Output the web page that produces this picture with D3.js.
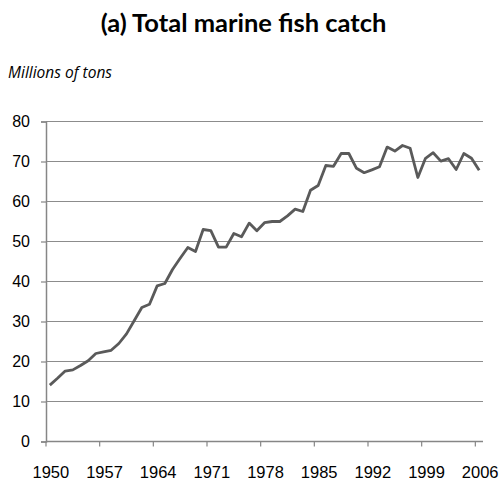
<!DOCTYPE html>
<html>
<head>
<meta charset="utf-8">
<script src="https://cdn.jsdelivr.net/npm/d3@7"></script>
<style>
  html, body { margin: 0; padding: 0; background: #fff; }
  svg { display: block; }
</style>
</head>
<body>
<script>
// Total marine fish catch, millions of tons, 1950–2006
const years = d3.range(1950, 2007);
const catchValues = [
  14.1, 15.8, 17.6, 17.9, 19.0, 20.2, 22.0, 22.4, 22.8, 24.5,
  26.9, 30.2, 33.5, 34.3, 38.9, 39.5, 43.0, 45.8, 48.5, 47.5,
  53.0, 52.7, 48.6, 48.6, 52.0, 51.2, 54.6, 52.7, 54.7, 55.0,
  55.0, 56.4, 58.1, 57.5, 62.8, 64.0, 69.0, 68.8, 72.0, 72.0,
  68.3, 67.2, 67.9, 68.7, 73.6, 72.6, 74.0, 73.3, 66.0, 70.8,
  72.2, 70.1, 70.7, 68.0, 72.0, 70.8, 67.8
];
const yTicks = [0, 10, 20, 30, 40, 50, 60, 70, 80];
const xLabelYears = [1950, 1957, 1964, 1971, 1978, 1985, 1992, 1999, 2006];

const W = 502, H = 484;
const plotLeft = 46, plotRight = 483, plotTop = 121.5, plotBottom = 441.5;

const svg = d3.select("body").append("svg")
  .attr("width", W).attr("height", H);

const x = d3.scaleBand().domain(years).range([plotLeft, plotRight]).padding(0);
const y = d3.scaleLinear().domain([0, 80]).range([plotBottom, plotTop]);

const axisColor = "#868686";
const gridColor = "#8c8c8c";
const textColor = "#000";
const font = "'Liberation Sans', Arial, sans-serif";

// Title and unit label
svg.append("text")
  .attr("x", 243.5).attr("y", 32)
  .attr("text-anchor", "middle")
  .attr("font-family", "Lato, 'Open Sans', sans-serif")
  .attr("font-weight", "bold")
  .attr("font-size", 25.5)
  .attr("fill", textColor)
  .text("(a) Total marine fish catch");

svg.append("text")
  .attr("x", 8).attr("y", 78)
  .attr("font-family", "'Open Sans', sans-serif")
  .attr("font-style", "italic")
  .attr("font-size", 15.5)
  .attr("fill", textColor)
  .text("Millions of tons");

// Horizontal gridlines
svg.append("g")
  .selectAll("line")
  .data(yTicks.filter(d => d > 0))
  .join("line")
  .attr("x1", plotLeft).attr("x2", plotRight)
  .attr("y1", d => y(d)).attr("y2", d => y(d))
  .attr("stroke", gridColor)
  .attr("stroke-width", 1.2);

// Y axis
const yAxis = d3.axisLeft(y).tickValues(yTicks).tickSize(5).tickPadding(11);
const gy = svg.append("g")
  .attr("transform", `translate(${plotLeft},0)`)
  .call(yAxis);
gy.select(".domain").attr("stroke", axisColor).attr("stroke-width", 1.5);
gy.selectAll(".tick line").attr("stroke", axisColor).attr("stroke-width", 1.2);
gy.selectAll(".tick text")
  .attr("font-family", font).attr("font-size", 16).attr("fill", textColor);

// X axis: ticks on category boundaries, labels on category centres
const gx = svg.append("g");
gx.append("line")
  .attr("x1", plotLeft).attr("x2", plotRight)
  .attr("y1", plotBottom).attr("y2", plotBottom)
  .attr("stroke", axisColor).attr("stroke-width", 1.5);
gx.selectAll("line.tk")
  .data(xLabelYears)
  .join("line")
  .attr("class", "tk")
  .attr("x1", d => x(d)).attr("x2", d => x(d))
  .attr("y1", plotBottom).attr("y2", plotBottom + 5)
  .attr("stroke", axisColor).attr("stroke-width", 1.2);
gx.selectAll("text")
  .data(xLabelYears)
  .join("text")
  .attr("x", d => x(d) + x.bandwidth() / 2 + 1)
  .attr("y", 478)
  .attr("text-anchor", "middle")
  .attr("font-family", font).attr("font-size", 16.5)
  .attr("fill", textColor)
  .text(d => d);

// Catch series
const line = d3.line()
  .x((d, i) => x(years[i]) + x.bandwidth() / 2)
  .y(d => y(d));

svg.append("path")
  .datum(catchValues)
  .attr("d", line)
  .attr("fill", "none")
  .attr("stroke", "#5a5a5a")
  .attr("stroke-width", 2.8)
  .attr("stroke-linejoin", "round");
</script>
</body>
</html>
